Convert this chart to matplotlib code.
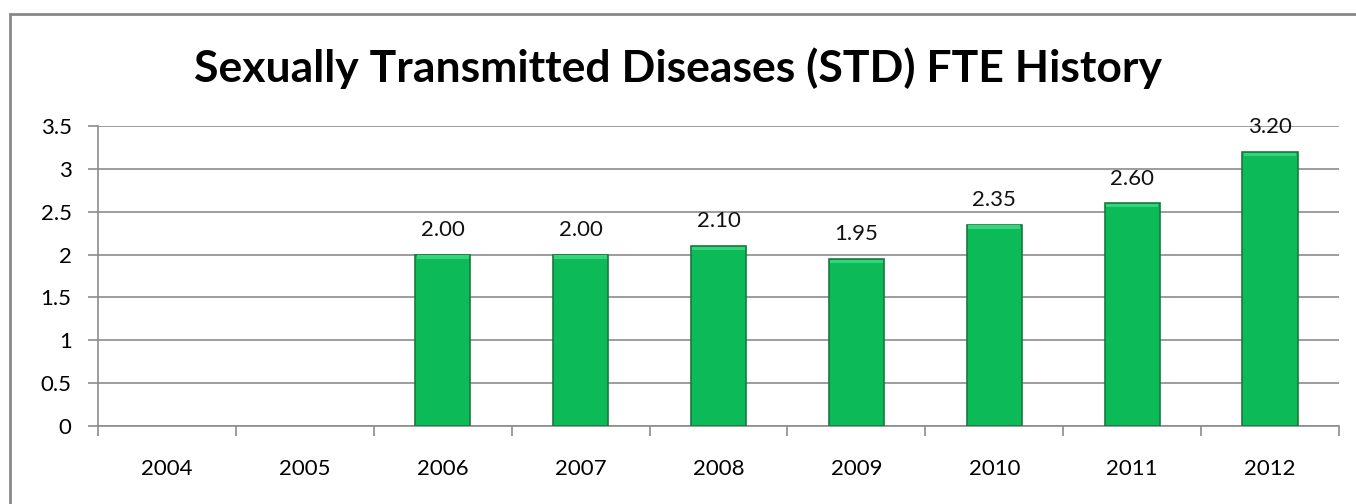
import matplotlib.pyplot as plt
from matplotlib.patches import Rectangle

years = ["2004", "2005", "2006", "2007", "2008", "2009", "2010", "2011", "2012"]
fte = [None, None, 2.00, 2.00, 2.10, 1.95, 2.35, 2.60, 3.20]

BAR_COLOR = "#0CBB57"
EDGE_COLOR = "#167A40"
GRID_COLOR = "#8C8C8C"

plt.rcParams["font.family"] = ["Lato", "DejaVu Sans"]

W, H = 1356, 504
fig = plt.figure(figsize=(W / 100, H / 100), dpi=100)
ax = fig.add_axes([98 / W, 1 - 426 / H, (1339 - 98) / W, 300 / H])

xs = [i for i, v in enumerate(fte) if v is not None]
vals = [v for v in fte if v is not None]
ax.bar(xs, vals, width=0.4, color=BAR_COLOR, edgecolor=EDGE_COLOR, linewidth=1.2, zorder=3)
for x, v in zip(xs, vals):
    # subtle lighter bevel along the top of each bar
    ax.add_patch(Rectangle((x - 0.19, v - 0.05), 0.38, 0.04, facecolor="#35D47B", edgecolor="none", zorder=4))
    ax.text(x, v + 0.17, f"{v:.2f}", ha="center", va="bottom", fontsize=16, color="#111111", zorder=5)

ax.set_xlim(-0.5, len(years) - 0.5)
ax.set_ylim(0, 3.5)
ax.set_yticks([0, 0.5, 1, 1.5, 2, 2.5, 3, 3.5])
ax.set_yticklabels(["0", "0.5", "1", "1.5", "2", "2.5", "3", "3.5"], fontsize=16)
ax.set_xticks(range(len(years)))
ax.set_xticklabels(years, fontsize=16)
ax.tick_params(axis="x", length=0, pad=24)
ax.set_xticks([i - 0.5 for i in range(len(years) + 1)], minor=True)
ax.tick_params(axis="x", which="minor", length=7, color=GRID_COLOR, width=1.2)
ax.tick_params(axis="y", length=7, color=GRID_COLOR, width=1.2, pad=12)
ax.grid(axis="y", color=GRID_COLOR, linewidth=1.2, zorder=0)
ax.set_axisbelow(True)
for side in ("top", "right"):
    ax.spines[side].set_visible(False)
for side in ("left", "bottom"):
    ax.spines[side].set_color(GRID_COLOR)
    ax.spines[side].set_linewidth(1.2)

fig.text(0.5, 1 - 68 / H, "Sexually Transmitted Diseases (STD) FTE History",
         ha="center", va="center", fontsize=32, fontweight="bold", color="#000000")

# chart frame
fig.add_artist(Rectangle((10 / W, -0.1), 1.2, 1 - 14 / H + 0.1, transform=fig.transFigure,
                         facecolor="none", edgecolor="#888888", linewidth=2))

fig.savefig("out.png", dpi=100)
